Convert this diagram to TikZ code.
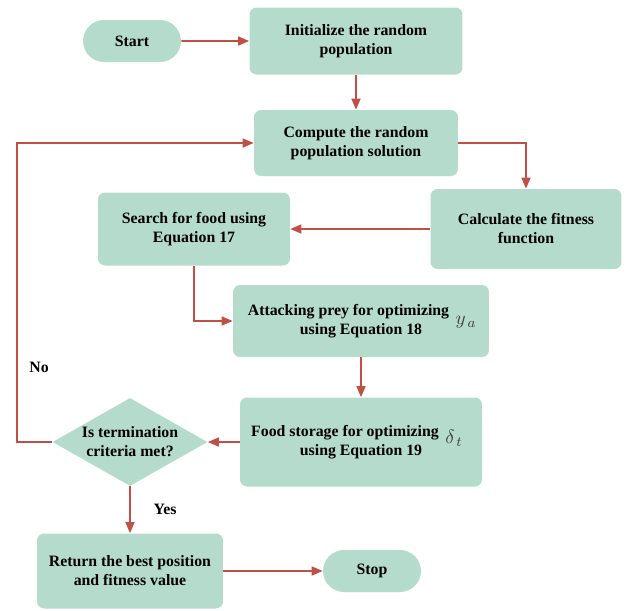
\documentclass[tikz,border=0pt]{standalone}
\usepackage{fontspec}
\setmainfont{Liberation Serif}
\usetikzlibrary{arrows.meta,shapes.geometric,shapes.misc}
\definecolor{boxfill}{RGB}{180,219,204}
\definecolor{flow}{RGB}{192,80,70}
\tikzset{
  stepbox/.style={fill=boxfill,rounded corners=4pt,align=center,inner sep=2pt,
    font=\fontsize{9}{10.8}\selectfont\bfseries},
  termbox/.style={rounded rectangle,fill=boxfill,inner sep=2pt,
    minimum width=2.1cm,minimum height=0.84cm,
    font=\fontsize{9}{10.8}\selectfont\bfseries},
  fl/.style={draw=flow,line width=0.9pt,-{Triangle[length=2.2mm,width=1.8mm]}},
}
\begin{document}
\begin{tikzpicture}[x=0.02cm,y=-0.02cm,
  dec/.style={diamond,fill=boxfill,aspect=1.76,inner sep=0pt,align=center,
    minimum width=3.1cm,minimum height=1.76cm,
    font=\fontsize{9}{10.8}\selectfont\bfseries},
  sym/.style={text=black!75,font=\fontsize{11}{11}\selectfont},
  lbl/.style={font=\fontsize{9}{10.8}\selectfont\bfseries,inner sep=0pt}]
  \useasboundingbox (0,0) rectangle (626,610);
  % top row
  \node[termbox] (start) at (132,41) {Start};
  \node[stepbox,minimum width=4.26cm,minimum height=1.34cm] (init) at (356,41) {Initialize the random\\population};
  \node[stepbox,minimum width=4.08cm,minimum height=1.32cm] (comp) at (356,143) {Compute the random\\population solution};
  % fitness and search
  \node[stepbox,minimum width=3.82cm,minimum height=1.6cm] (fit) at (526,229) {Calculate the fitness\\function};
  \node[stepbox,minimum width=3.84cm,minimum height=1.46cm] (search) at (194,229) {Search for food using\\Equation 17};
  % attack and storage
  \node[stepbox,minimum width=5.12cm,minimum height=1.44cm] (atk) at (361,321) {Attacking prey for optimizing\makebox[0.5cm]{}\\using Equation 18};
  \node[sym] (ya) at (466,322) {$y_{\,a}$};
  \node[stepbox,minimum width=4.84cm,minimum height=1.78cm] (store) at (361,442) {Food storage for optimizing\makebox[0.64cm]{}\\using Equation 19};
  \node[sym] (dt) at (454,438) {$\delta_{\,t}$};
  % decision and end
  \node[dec] (check) at (130,442) {Is termination\\criteria met?};
  \node[stepbox,minimum width=3.72cm,minimum height=1.5cm] (ret) at (130,571) {Return the best position\\and fitness value};
  \node[termbox] (stop) at (372,571) {Stop};
  \node[lbl] (no) at (39,367) {No};
  \coordinate (back) at (17,442);
  \draw[fl] (start) -- (init);
  \draw[fl] (init) -- (comp);
  \draw[fl] (comp.east) -| (fit.north);
  \draw[fl] (fit.west) -- (search.east);
  \draw[fl] (search.south) |- (atk.west);
  \draw[fl] (atk) -- (store);
  \draw[fl] (store.west) -- (check.east);
  \draw[fl] (check.west) -- (back) |- (comp.west);
  \draw[fl] (check.south) -- node[lbl,right=13pt] {Yes} (ret.north);
  \draw[fl] (ret) -- (stop);
\end{tikzpicture}
\end{document}
